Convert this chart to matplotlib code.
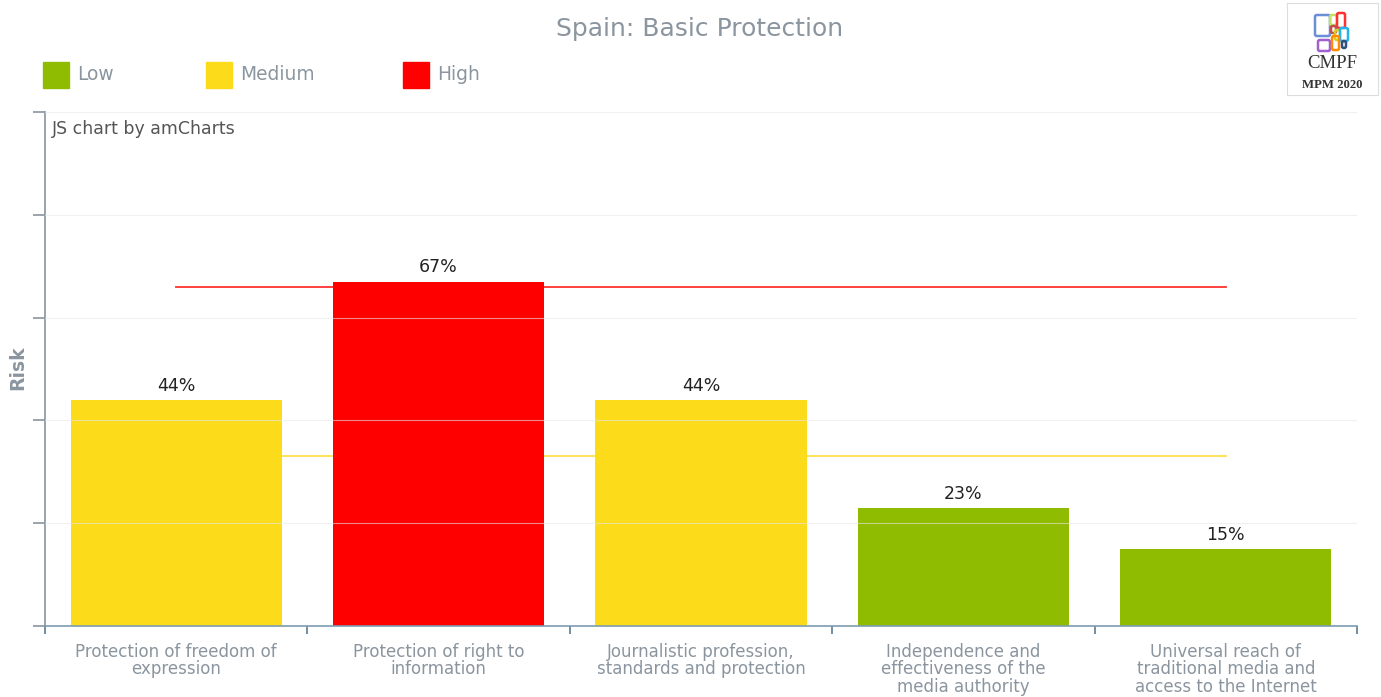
import matplotlib.pyplot as plt
import matplotlib.patches as mpatches
import numpy as np

categories = [
    "Protection of freedom of\nexpression",
    "Protection of right to\ninformation",
    "Journalistic profession,\nstandards and protection",
    "Independence and\neffectiveness of the\nmedia authority",
    "Universal reach of\ntraditional media and\naccess to the Internet",
]
risk = [44, 67, 44, 23, 15]
levels = ["Medium", "High", "Medium", "Low", "Low"]
thresholds = [66, 33]

level_colors = {"Low": "#8fbb00", "Medium": "#fcdb1a", "High": "#ff0000"}
line_colors = ["#ff3030", "#fce14a"]

W, H = 1381, 697
fig = plt.figure(figsize=(W / 100, H / 100), dpi=100)
ax = fig.add_axes([45 / W, 1 - 626 / H, (1357 - 45) / W, (626 - 112) / H])

x = np.arange(len(categories))

# threshold lines behind the bars
for t, c in zip(thresholds, line_colors):
    ax.plot([x[0], x[-1]], [t, t], color=c, lw=1.3, zorder=1)

ax.bar(x, risk, width=0.805, color=[level_colors[l] for l in levels], zorder=2)
for xi, v in zip(x, risk):
    ax.text(xi, v + 1.0, f"{v}%", ha="center", va="bottom", fontsize=12.5,
            color="#222222", zorder=4)

ax.set_xlim(-0.5, len(categories) - 0.5)
ax.set_ylim(0, 100)
for g in [20, 40, 60, 80, 100]:
    ax.axhline(g, color="#e6e6e6", lw=0.8, alpha=0.6, zorder=3)

ax.set_yticks([0, 20, 40, 60, 80, 100])
ax.set_yticklabels([])
ax.tick_params(axis="y", length=9, width=1.2, color="#8a959f", direction="out")
ax.set_xticks(x)
ax.set_xticklabels(categories, fontsize=12, color="#8a959f", linespacing=0.97)
ax.tick_params(axis="x", length=0, pad=12)
# category boundary ticks
ax.set_xticks(np.arange(len(categories) + 1) - 0.5, minor=True)
ax.tick_params(axis="x", which="minor", length=6, width=1.2, color="#5f7a8e",
               direction="out")

for s in ["top", "right"]:
    ax.spines[s].set_visible(False)
ax.spines["left"].set_color("#8a959f")
ax.spines["left"].set_linewidth(1.2)
ax.spines["bottom"].set_color("#7c9cb0")
ax.spines["bottom"].set_linewidth(1.2)

ax.text(0.005, 0.985, "JS chart by amCharts", transform=ax.transAxes,
        fontsize=12.5, color="#555555", va="top", ha="left")

fig.text(18 / W, 1 - 368 / H, "Risk", rotation=90, ha="center", va="center",
         fontsize=13.5, fontweight="bold", color="#8a959f")

fig.text(700 / W, 1 - 29 / H, "Spain: Basic Protection", ha="center",
         va="center", fontsize=18, color="#8a959f")

# legend
legend_items = [("Low", 43), ("Medium", 206), ("High", 403)]
for name, lx in legend_items:
    fig.patches.append(mpatches.Rectangle((lx / W, 1 - 88 / H), 26 / W, 26 / H,
                                          transform=fig.transFigure,
                                          color=level_colors[name]))
    fig.text((lx + 34) / W, 1 - 75 / H, name, fontsize=13.4, color="#8a959f",
             va="center", ha="left")

# logo
lax = fig.add_axes([1287 / W, 1 - 95 / H, 91 / W, 92 / H])
lax.set_xlim(0, 91)
lax.set_ylim(92, 0)
lax.set_xticks([])
lax.set_yticks([])
for s in lax.spines.values():
    s.set_color("#dddddd")
boxes = [
    (28, 12, 15, 21, "#6a8fd6"), (43, 12, 7, 10, "#c4e06a"),
    (50, 10, 8, 15, "#ff3030"), (44, 23, 5, 7, "#c05050"),
    (48, 27, 5, 10, "#d8d020"), (53, 25, 8, 13, "#22b5e8"),
    (31, 37, 12, 11, "#a060d0"), (45, 33, 7, 14, "#ff8c00"),
    (55, 38, 4, 7, "#305080"),
]
for bx, by, bw, bh, bc in boxes:
    lax.add_patch(mpatches.FancyBboxPatch((bx, by), bw, bh,
                                          boxstyle="round,pad=0,rounding_size=1.8",
                                          fill=False, ec=bc, lw=1.8))
lax.text(45.5, 60, "CMPF", ha="center", va="center", fontsize=13.5,
         family="Liberation Serif", color="#333333")
lax.text(45.5, 82, "MPM 2020", ha="center", va="center", fontsize=9.2,
         family="Liberation Serif", fontweight="bold", color="#333333")

fig.savefig("out.png", dpi=100)
